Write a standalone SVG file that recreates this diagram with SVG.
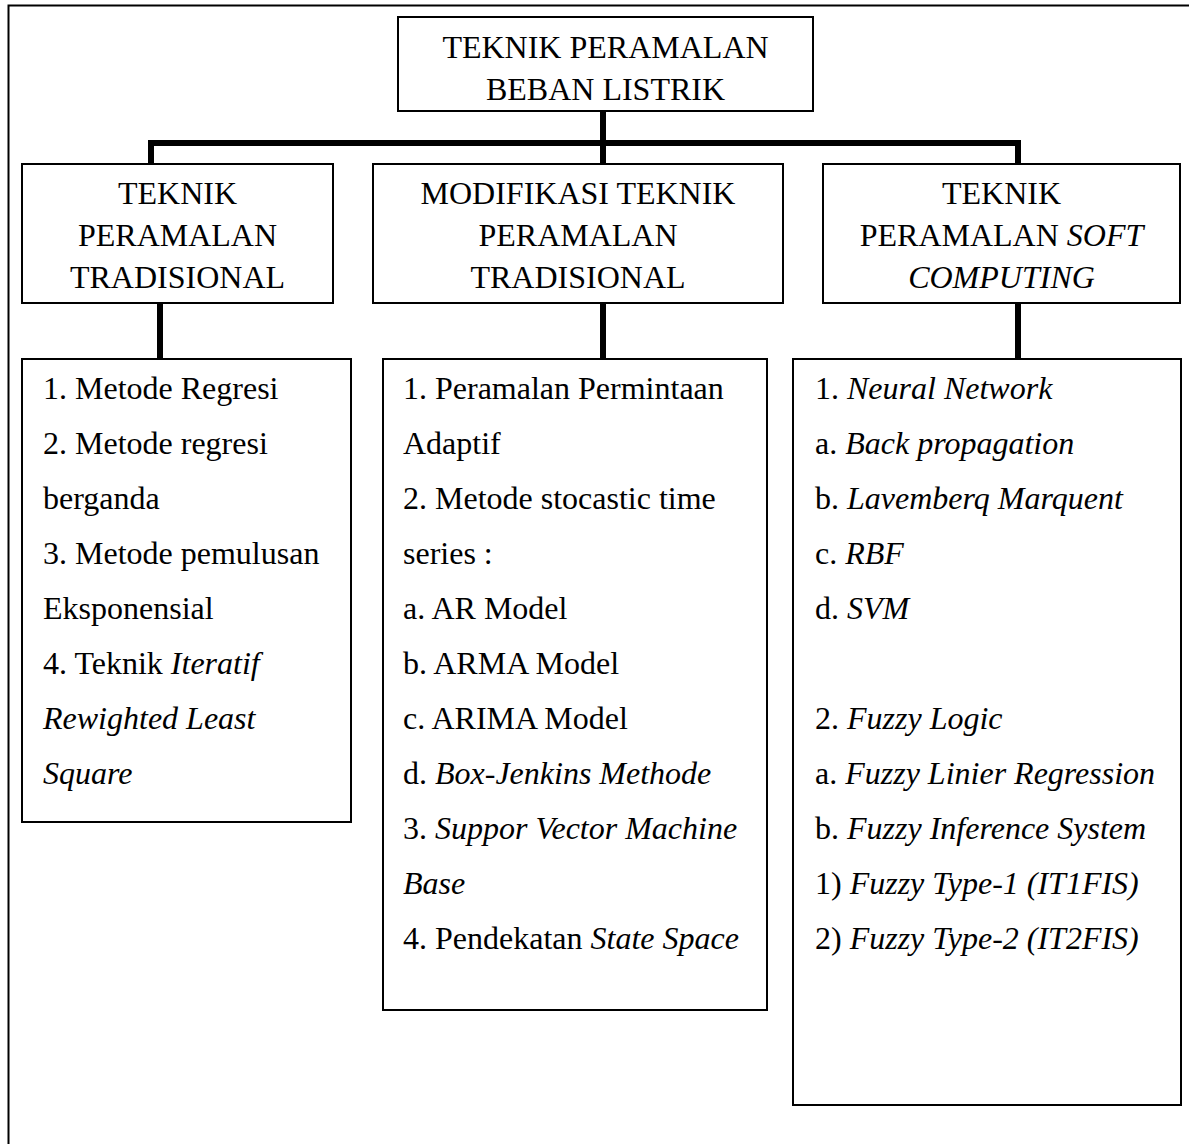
<svg xmlns="http://www.w3.org/2000/svg" width="1189" height="1144" viewBox="0 0 1189 1144">
<style>
.box{fill:#fff;stroke:#000;stroke-width:2}
.con{stroke:#000;stroke-width:6;fill:none}
text{font-family:"Liberation Serif","Times New Roman",serif;font-size:32px;fill:#000}
.c{text-anchor:middle}
.i{font-style:italic}
</style>
<rect x="0" y="0" width="1189" height="1144" fill="#fff"/>
<rect id="frame" x="8.5" y="5.5" width="1200" height="1200" fill="none" stroke="#000" stroke-width="2"/>
<g id="connectors">
<line class="con" x1="603" y1="111" x2="603" y2="165"/>
<polyline class="con" points="151,165 151,143 1018,143 1018,165"/>
<line class="con" x1="160" y1="304" x2="160" y2="360"/>
<line class="con" x1="603" y1="304" x2="603" y2="360"/>
<line class="con" x1="1018" y1="304" x2="1018" y2="360"/>
</g>
<g id="root">
<rect class="box" x="398" y="17" width="415" height="94"/>
<text class="c" x="605.5" y="58">TEKNIK PERAMALAN</text>
<text class="c" x="605.5" y="100">BEBAN LISTRIK</text>
</g>
<g id="tradisional">
<rect class="box" x="22" y="164" width="311" height="139"/>
<text class="c" x="177.5" y="204">TEKNIK</text>
<text class="c" x="177.5" y="246">PERAMALAN</text>
<text class="c" x="177.5" y="288">TRADISIONAL</text>
</g>
<g id="modifikasi">
<rect class="box" x="373" y="164" width="410" height="139"/>
<text class="c" x="578" y="204">MODIFIKASI TEKNIK</text>
<text class="c" x="578" y="246">PERAMALAN</text>
<text class="c" x="578" y="288">TRADISIONAL</text>
</g>
<g id="softcomputing">
<rect class="box" x="823" y="164" width="357" height="139"/>
<text class="c" x="1001.5" y="204">TEKNIK</text>
<text class="c" x="1001.5" y="246">PERAMALAN <tspan class="i">SOFT</tspan></text>
<text class="c i" x="1001.5" y="288">COMPUTING</text>
</g>
<g id="list-tradisional">
<rect class="box" x="22" y="359" width="329" height="463"/>
<text x="43" y="399">1. Metode Regresi</text>
<text x="43" y="454">2. Metode regresi</text>
<text x="43" y="509">berganda</text>
<text x="43" y="564">3. Metode pemulusan</text>
<text x="43" y="619">Eksponensial</text>
<text x="43" y="674">4. Teknik <tspan class="i">Iteratif</tspan></text>
<text x="43" y="729" class="i">Rewighted Least</text>
<text x="43" y="784" class="i">Square</text>
</g>
<g id="list-modifikasi">
<rect class="box" x="383" y="359" width="384" height="651"/>
<text x="403" y="399">1. Peramalan Permintaan</text>
<text x="403" y="454">Adaptif</text>
<text x="403" y="509">2. Metode stocastic time</text>
<text x="403" y="564">series :</text>
<text x="403" y="619">a. AR Model</text>
<text x="403" y="674">b. ARMA Model</text>
<text x="403" y="729">c. ARIMA Model</text>
<text x="403" y="784">d. <tspan class="i">Box-Jenkins Methode</tspan></text>
<text x="403" y="839">3. <tspan class="i">Suppor Vector Machine</tspan></text>
<text x="403" y="894" class="i">Base</text>
<text x="403" y="949">4. Pendekatan <tspan class="i">State Space</tspan></text>
</g>
<g id="list-softcomputing">
<rect class="box" x="793" y="359" width="388" height="746"/>
<text x="815" y="399">1. <tspan class="i">Neural Network</tspan></text>
<text x="815" y="454">a. <tspan class="i">Back propagation</tspan></text>
<text x="815" y="509">b. <tspan class="i">Lavemberq Marquent</tspan></text>
<text x="815" y="564">c. <tspan class="i">RBF</tspan></text>
<text x="815" y="619">d. <tspan class="i">SVM</tspan></text>
<text x="815" y="729">2. <tspan class="i">Fuzzy Logic</tspan></text>
<text x="815" y="784">a. <tspan class="i">Fuzzy Linier Regression</tspan></text>
<text x="815" y="839">b. <tspan class="i">Fuzzy Inference System</tspan></text>
<text x="815" y="894">1) <tspan class="i">Fuzzy Type-1 (IT1FIS)</tspan></text>
<text x="815" y="949">2) <tspan class="i">Fuzzy Type-2 (IT2FIS)</tspan></text>
</g>
</svg>
